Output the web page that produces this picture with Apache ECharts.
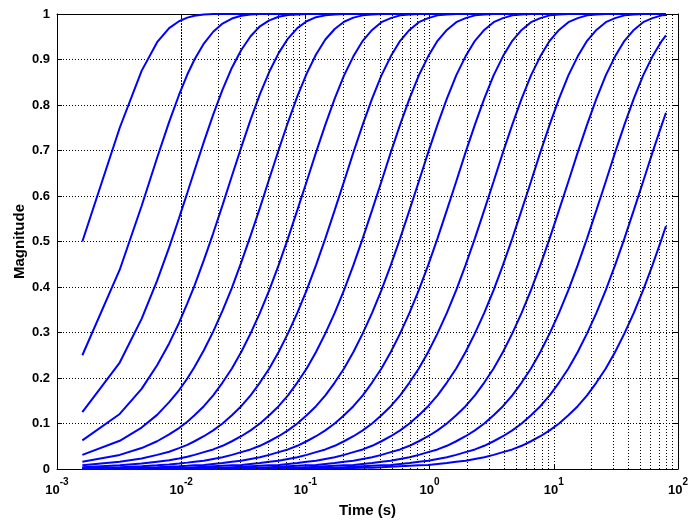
<!DOCTYPE html>
<html><head><meta charset="utf-8">
<script src="https://cdn.jsdelivr.net/npm/echarts@6/dist/echarts.min.js"></script>
<style>html,body{margin:0;padding:0;background:#fff}#c{width:691px;height:523px}</style>
</head><body><div id="c"></div>
<script>
// time samples (s)
const timeSec = [0.0016,0.0032,0.0048,0.0064,0.008,0.0096,0.0112,
0.0128,0.015222,0.018102,0.021527,
0.0256,0.030444,0.036204,0.043054,
0.0512,0.060888,0.072408,0.086108,
0.1024,0.121775,0.144815,0.172215,
0.2048,0.24355,0.289631,0.344431,
0.4096,0.4871,0.579262,0.688862,
0.8192,0.9742,1.158524,1.377723,
1.6384,1.948401,2.317047,2.755445,
3.2768,3.896802,4.634094,5.51089,
6.5536,7.793604,9.268188,11.02178,
13.1072,15.58721,18.53638,22.04356,
26.2144,31.17441,37.07275,44.08712,
52.4288,62.34883,74.1455,
80];

const mag01 = [0.5,0.75,0.875,0.938,0.969,0.984,0.992,0.996,0.999,
1,1,1,1,1,1,1,1,1,1,1,1,1,1,1,1,1,1,1,1,1,1,1,1,1,1,1,1,1,1,1,1,1,1,1,1,1,1,1,1,1,1,1,1,1,1,1,1,1,1];
const mag02 = [0.25,0.438,0.578,0.684,0.763,0.822,0.867,0.900,0.935,0.961,0.979,0.990,0.996,0.999,
1,1,1,1,1,1,1,1,1,1,1,1,1,1,1,1,1,1,1,1,1,1,1,1,1,1,1,1,1,1,1,1,1,1,1,1,1,1,1,1,1,1,1,1,1];
const mag03 = [0.125,0.234,0.330,0.414,0.487,0.551,0.607,0.656,0.719,0.779,0.834,0.882,0.921,0.951,0.973,0.986,0.994,0.998,0.999,
1,1,1,1,1,1,1,1,1,1,1,1,1,1,1,1,1,1,1,1,1,1,1,1,1,1,1,1,1,1,1,1,1,1,1,1,1,1,1,1];
const mag04 = [0.063,0.121,0.176,0.228,0.276,0.321,0.364,0.403,0.459,0.518,0.580,0.644,0.707,0.768,0.824,0.873,0.914,0.946,0.969,0.984,0.993,0.997,0.999,
1,1,1,1,1,1,1,1,1,1,1,1,1,1,1,1,1,1,1,1,1,1,1,1,1,1,1,1,1,1,1,1,1,1,1,1];
const mag05 = [0.031,0.062,0.091,0.119,0.147,0.173,0.199,0.224,0.261,0.302,0.348,0.398,0.454,0.513,0.574,0.638,0.701,0.762,0.819,0.869,0.911,0.944,0.967,0.983,0.992,0.997,0.999,
1,1,1,1,1,1,1,1,1,1,1,1,1,1,1,1,1,1,1,1,1,1,1,1,1,1,1,1,1,1,1,1];
const mag06 = [0.016,0.031,0.046,0.061,0.076,0.090,0.104,
0.118,0.138,0.162,0.190,0.221,0.257,0.298,0.343,0.393,0.448,0.507,0.569,0.632,0.696,0.757,0.814,0.865,0.907,0.941,0.965,0.982,0.991,0.997,0.999,
1,1,1,1,1,1,1,1,1,1,1,1,1,1,1,1,1,1,1,1,1,1,1,1,1,1,1,1];
const mag07 = [0.008,0.016,0.023,0.031,0.038,0.046,0.053,
0.061,0.072,0.085,0.100,
0.118,0.138,0.162,0.190,0.221,0.257,0.298,0.343,0.393,0.448,0.507,0.569,0.632,0.696,0.757,0.814,0.865,0.907,0.941,0.965,0.982,0.991,0.997,0.999,
1,1,1,1,1,1,1,1,1,1,1,1,1,1,1,1,1,1,1,1,1,1,1,1];
const mag08 = [0.004,0.008,0.012,0.016,0.019,0.023,0.027,
0.031,0.037,0.043,0.051,0.061,0.072,0.085,0.100,
0.118,0.138,0.162,0.190,0.221,0.257,0.298,0.343,0.393,0.448,0.507,0.569,0.632,0.696,0.757,0.814,0.865,0.907,0.941,0.965,0.982,0.991,0.997,0.999,
1,1,1,1,1,1,1,1,1,1,1,1,1,1,1,1,1,1,1,1];
const mag09 = [0.002,0.004,0.006,0.008,0.010,0.012,0.014,
0.016,0.018,0.022,0.026,0.031,0.037,0.043,0.051,0.061,0.072,0.085,0.100,
0.118,0.138,0.162,0.190,0.221,0.257,0.298,0.343,0.393,0.448,0.507,0.569,0.632,0.696,0.757,0.814,0.865,0.907,0.941,0.965,0.982,0.991,0.997,0.999,
1,1,1,1,1,1,1,1,1,1,1,1,1,1,1,1];
const mag10 = [0.001,0.002,0.003,0.004,0.005,0.006,0.007,
0.008,0.009,0.011,0.013,0.016,0.018,0.022,0.026,0.031,0.037,0.043,0.051,0.061,0.072,0.085,0.100,
0.118,0.138,0.162,0.190,0.221,0.257,0.298,0.343,0.393,0.448,0.507,0.569,0.632,0.696,0.757,0.814,0.865,0.907,0.941,0.965,0.982,0.991,0.997,0.999,
1,1,1,1,1,1,1,1,1,1,1,1];
const mag11 = [0,0.001,0.001,0.002,0.002,0.003,0.003,
0.004,0.005,0.006,0.007,0.008,0.009,0.011,0.013,0.016,0.018,0.022,0.026,0.031,0.037,0.043,0.051,0.061,0.072,0.085,0.100,
0.118,0.138,0.162,0.190,0.221,0.257,0.298,0.343,0.393,0.448,0.507,0.569,0.632,0.696,0.757,0.814,0.865,0.907,0.941,0.965,0.982,0.991,0.997,0.999,
1,1,1,1,1,1,1,1];
const mag12 = [0,0,0.001,0.001,0.001,0.001,0.002,
0.002,0.002,0.003,0.003,
0.004,0.005,0.006,0.007,0.008,0.009,0.011,0.013,0.016,0.018,0.022,0.026,0.031,0.037,0.043,0.051,0.061,0.072,0.085,0.100,
0.118,0.138,0.162,0.190,0.221,0.257,0.298,0.343,0.393,0.448,0.507,0.569,0.632,0.696,0.757,0.814,0.865,0.907,0.941,0.965,0.982,0.991,0.997,0.999,
1,1,1,1];
const mag13 = [0,0,0,0,0.001,0.001,0.001,
0.001,0.001,0.001,0.002,0.002,0.002,0.003,0.003,
0.004,0.005,0.006,0.007,0.008,0.009,0.011,0.013,0.016,0.018,0.022,0.026,0.031,0.037,0.043,0.051,0.061,0.072,0.085,0.100,
0.118,0.138,0.162,0.190,0.221,0.257,0.298,0.343,0.393,0.448,0.507,0.569,0.632,0.696,0.757,0.814,0.865,0.907,0.941,0.965,0.982,0.991,0.997,
0.998];
const mag14 = [0,0,0,0,0,0,0,
0,0.001,0.001,0.001,0.001,0.001,0.001,0.002,0.002,0.002,0.003,0.003,
0.004,0.005,0.006,0.007,0.008,0.009,0.011,0.013,0.016,0.018,0.022,0.026,0.031,0.037,0.043,0.051,0.061,0.072,0.085,0.100,
0.118,0.138,0.162,0.190,0.221,0.257,0.298,0.343,0.393,0.448,0.507,0.569,0.632,0.696,0.757,0.814,0.865,0.907,0.941,
0.953];
const mag15 = [0,0,0,0,0,0,0,
0,0,0,0,0,0.001,0.001,0.001,0.001,0.001,0.001,0.002,0.002,0.002,0.003,0.003,
0.004,0.005,0.006,0.007,0.008,0.009,0.011,0.013,0.016,0.018,0.022,0.026,0.031,0.037,0.043,0.051,0.061,0.072,0.085,0.100,
0.118,0.138,0.162,0.190,0.221,0.257,0.298,0.343,0.393,0.448,0.507,0.569,0.632,0.696,0.757,
0.783];
const mag16 = [0,0,0,0,0,0,0,
0,0,0,0,0,0,0,0,0,0.001,0.001,0.001,0.001,0.001,0.001,0.002,0.002,0.002,0.003,0.003,
0.004,0.005,0.006,0.007,0.008,0.009,0.011,0.013,0.016,0.018,0.022,0.026,0.031,0.037,0.043,0.051,0.061,0.072,0.085,0.100,
0.118,0.138,0.162,0.190,0.221,0.257,0.298,0.343,0.393,0.448,0.507,
0.534];

// axis grid positions
const yTickStep = 0.1;
const minorGrid = [0.002,0.003,0.004,0.005,0.006,0.007,0.008,0.009,
0.02,0.03,0.04,0.05,0.06,0.07,0.08,0.09,
0.2,0.3,0.4,0.5,0.6,0.7,0.8,0.9,
2,3,4,5,6,7,8,9,
20,30,40,50,60,70,80,90];

const curves = [mag01,mag02,mag03,mag04,mag05,mag06,mag07,mag08,mag09,mag10,mag11,mag12,mag13,mag14,mag15,mag16];

const FONT = '"Liberation Sans", Arial, Helvetica, sans-serif';
const dotted = {type:[1,2], color:'#000', width:1};
const chart = echarts.init(document.getElementById('c'), null, {renderer:'canvas'});

const series = curves.map(arr => ({
  type:'line', data: timeSec.map((t,i)=>[t, arr[i]]),
  showSymbol:false, symbol:'none', silent:true, animation:false, z:3,
  lineStyle:{color:'#0000ff', width:2}, itemStyle:{color:'#0000ff'}
}));
series.push({
  type:'line', data:[], z:1, silent:true, animation:false,
  markLine:{silent:true, animation:false, symbol:['none','none'], label:{show:false},
    lineStyle: dotted, emphasis:{disabled:true},
    data: minorGrid.map(v=>({xAxis:v}))}
});

chart.setOption({
  animation:false,
  backgroundColor:'#fff',
  grid:{left:57, top:14, width:622, height:460, containLabel:false},
  xAxis:[{
    type:'log', logBase:10, min:0.001, max:100, position:'bottom',
    axisLine:{show:true, onZero:false, lineStyle:{color:'#000', width:1}},
    axisTick:{show:true, inside:true, length:5, lineStyle:{color:'#000'}},
    splitLine:{show:true, lineStyle:dotted},
    axisLabel:{margin:8, formatter: v => '{b|10}{s|' + Math.round(Math.log10(v)) + '}',
      rich:{
        b:{fontFamily:FONT, fontWeight:'bold', fontSize:13, color:'#000', verticalAlign:'bottom', lineHeight:20},
        s:{fontFamily:FONT, fontWeight:'bold', fontSize:10, color:'#000', verticalAlign:'top', lineHeight:20}
      }},
    name:'Time (s)', nameLocation:'middle', nameGap:34, nameMoveOverlap:false,
    nameTextStyle:{fontFamily:FONT, fontWeight:'bold', fontSize:15, color:'#000'}
  },{
    type:'log', logBase:10, min:0.001, max:100, position:'top',
    axisLine:{show:true, onZero:false, lineStyle:{color:'#000', width:1}},
    axisTick:{show:true, inside:true, length:5, lineStyle:{color:'#000'}},
    axisLabel:{show:false}, splitLine:{show:false}
  }],
  yAxis:[{
    type:'value', min:0, max:1, interval:yTickStep, position:'left',
    axisLine:{show:true, onZero:false, lineStyle:{color:'#000', width:1}},
    axisTick:{show:true, inside:true, length:5, lineStyle:{color:'#000'}},
    splitLine:{show:true, lineStyle:dotted},
    axisLabel:{margin:7, fontFamily:FONT, fontWeight:'bold', fontSize:13, color:'#000'},
    name:'Magnitude', nameLocation:'middle', nameGap:30, nameMoveOverlap:false,
    nameTextStyle:{fontFamily:FONT, fontWeight:'bold', fontSize:15, color:'#000'}
  },{
    type:'value', min:0, max:1, interval:yTickStep, position:'right',
    axisLine:{show:true, onZero:false, lineStyle:{color:'#000', width:1}},
    axisTick:{show:true, inside:true, length:5, lineStyle:{color:'#000'}},
    axisLabel:{show:false}, splitLine:{show:false}
  }],
  series: series
});
</script>
</body></html>
